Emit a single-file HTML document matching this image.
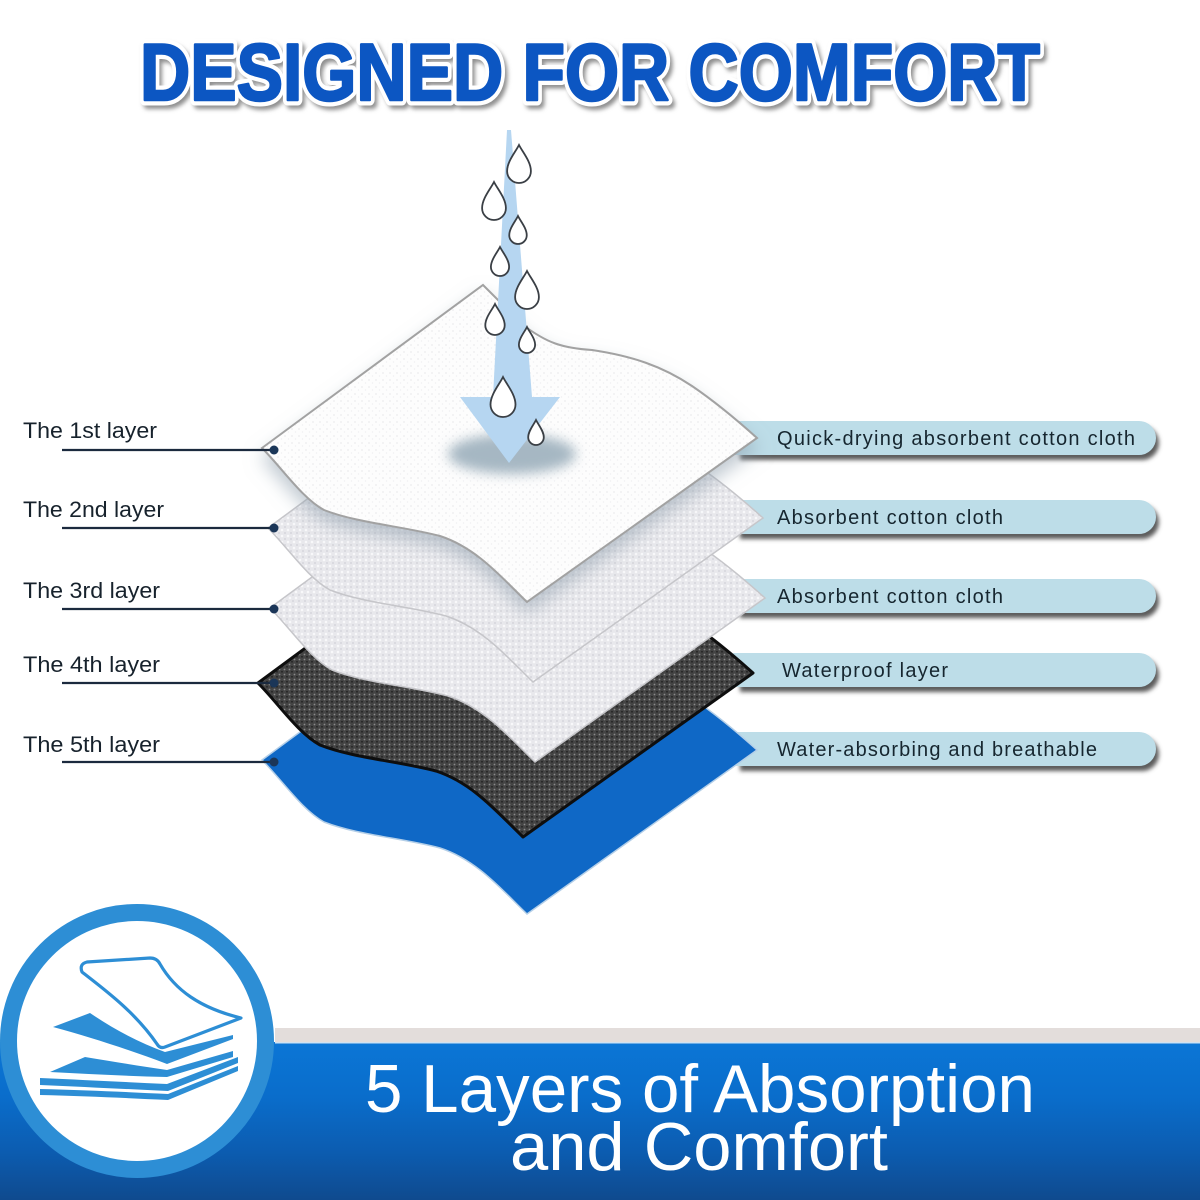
<!DOCTYPE html>
<html>
<head>
<meta charset="utf-8">
<style>
  html,body{margin:0;padding:0;background:#ffffff;}
  body{width:1200px;height:1200px;overflow:hidden;}
  svg{display:block;}
</style>
</head>
<body>
<svg width="1200" height="1200" viewBox="0 0 1200 1200" xmlns="http://www.w3.org/2000/svg">
  <defs>
    <linearGradient id="banner" x1="0" y1="0" x2="0" y2="1">
      <stop offset="0" stop-color="#0b76d6"/>
      <stop offset="0.35" stop-color="#0a6dcb"/>
      <stop offset="0.7" stop-color="#0c5cb0"/>
      <stop offset="1" stop-color="#0f4a8e"/>
    </linearGradient>
    <pattern id="white" width="7" height="7" patternUnits="userSpaceOnUse">
      <rect width="7" height="7" fill="#fdfdfd"/>
      <circle cx="2" cy="2" r="0.9" fill="#ececee"/>
      <circle cx="5.5" cy="5" r="0.7" fill="#f0f0f2"/>
    </pattern>
    <pattern id="knit" width="6" height="6" patternUnits="userSpaceOnUse">
      <rect width="6" height="6" fill="#e8e8ec"/>
      <circle cx="2" cy="2" r="1.3" fill="#f8f8fa"/>
      <circle cx="5" cy="5" r="1" fill="#d6d6dc"/>
    </pattern>
    <pattern id="dark" width="5" height="5" patternUnits="userSpaceOnUse">
      <rect width="5" height="5" fill="#444444"/>
      <circle cx="1.5" cy="1.5" r="0.9" fill="#8a8a8a"/>
      <circle cx="4" cy="3.8" r="0.9" fill="#222222"/>
    </pattern>
    <filter id="blur2" x="-20%" y="-50%" width="140%" height="200%">
      <feGaussianBlur stdDeviation="2"/>
    </filter>
    <filter id="blur6" x="-30%" y="-60%" width="160%" height="220%">
      <feGaussianBlur stdDeviation="6"/>
    </filter>
    <filter id="lshadow" x="-10%" y="-10%" width="120%" height="130%">
      <feDropShadow dx="0" dy="10" stdDeviation="9" flood-color="#8c9cab" flood-opacity="0.55"/>
    </filter>
    <path id="L" d="M0,0 L221,-163 L261,-123 C285,-105 300,-100 330,-98 C370,-92 400,-82 430,-62 C455,-45 475,-28 495,-10 L265,154 C240,130 215,100 178,88 C140,78 95,75 62,62 C40,50 20,20 0,0 Z"/>
  </defs>

  <!-- Title -->
  <g font-family="'Liberation Sans', sans-serif" font-weight="bold" font-size="81">
    <text x="143" y="104" textLength="900" lengthAdjust="spacingAndGlyphs" fill="#8f8f8f" stroke="#8f8f8f" stroke-width="10" stroke-linejoin="round" filter="url(#blur2)">DESIGNED FOR COMFORT</text>
    <text x="140" y="100" textLength="900" lengthAdjust="spacingAndGlyphs" fill="#ffffff" stroke="#ffffff" stroke-width="11" stroke-linejoin="round">DESIGNED FOR COMFORT</text>
    <text x="140" y="100" textLength="900" lengthAdjust="spacingAndGlyphs" fill="#0c56c2" stroke="#0c56c2" stroke-width="2.5" stroke-linejoin="round">DESIGNED FOR COMFORT</text>
  </g>

  <!-- Pills (right) -->
  <g>
    <g fill="#5c5c5c" filter="url(#blur2)">
      <path d="M740,426 H1142 A17,17 0 0 1 1142,460 H740 Z"/>
      <path d="M740,505 H1142 A17,17 0 0 1 1142,539 H740 Z"/>
      <path d="M740,584 H1142 A17,17 0 0 1 1142,618 H740 Z"/>
      <path d="M740,658 H1142 A17,17 0 0 1 1142,692 H740 Z"/>
      <path d="M740,737 H1142 A17,17 0 0 1 1142,771 H740 Z"/>
    </g>
    <g fill="#bddde8">
      <path d="M733,421 H1139 A17,17 0 0 1 1139,455 H733 Z"/>
      <path d="M733,500 H1139 A17,17 0 0 1 1139,534 H733 Z"/>
      <path d="M733,579 H1139 A17,17 0 0 1 1139,613 H733 Z"/>
      <path d="M733,653 H1139 A17,17 0 0 1 1139,687 H733 Z"/>
      <path d="M733,732 H1139 A17,17 0 0 1 1139,766 H733 Z"/>
    </g>
    <g font-family="'Liberation Sans', sans-serif" font-size="20" fill="#16262f">
      <text x="777" y="445" textLength="358" lengthAdjust="spacing">Quick-drying absorbent cotton cloth</text>
      <text x="777" y="524" textLength="226" lengthAdjust="spacing">Absorbent cotton cloth</text>
      <text x="777" y="603" textLength="226" lengthAdjust="spacing">Absorbent cotton cloth</text>
      <text x="782" y="677" textLength="166" lengthAdjust="spacing">Waterproof layer</text>
      <text x="777" y="756" textLength="320" lengthAdjust="spacing">Water-absorbing and breathable</text>
    </g>
  </g>

  <!-- Layers -->
  <use href="#L" transform="translate(262,760)" fill="#0f68c6" stroke="#b4cfe8" stroke-width="1.5"/>
  <use href="#L" transform="translate(258,683)" fill="url(#dark)" stroke="#0e0e0e" stroke-width="3" stroke-linejoin="round"/>
  <use href="#L" transform="translate(270,608)" fill="url(#knit)" stroke="#c6c6ca" stroke-width="1.5"/>
  <use href="#L" transform="translate(268,528)" fill="url(#knit)" stroke="#c6c6ca" stroke-width="1.5"/>
  <use href="#L" transform="translate(262,448)" fill="url(#white)" stroke="#a2a2a2" stroke-width="2" filter="url(#lshadow)"/>

  <!-- wet spot -->
  <ellipse cx="512" cy="454" rx="64" ry="20" fill="#a6b7c3" filter="url(#blur6)"/>

  <!-- Arrow -->
  <polygon points="507,130 511,130 532,397 560,397 509,463 460,397 493,397" fill="#b6d6f1"/>

  <!-- Drops -->
  <g fill="#ffffff" stroke="#3a3f45" stroke-width="1.8">
    <path d="M519,145 C522.6,152.1 530.9,161.6 530.9,171.1 A11.9,11.9 0 0 1 507.1,171.1 C507.1,161.6 515.4,152.1 519,145Z"/>
    <path d="M494,182 C497.6,189.1 505.9,198.6 505.9,208.1 A11.9,11.9 0 0 1 482.1,208.1 C482.1,198.6 490.4,189.1 494,182Z"/>
    <path d="M518,216 C520.6,221.3 526.75,228.25 526.75,235.25 A8.75,8.75 0 0 1 509.25,235.25 C509.25,228.25 515.4,221.3 518,216Z"/>
    <path d="M500,247 C502.7,252.4 509.1,259.7 509.1,266.9 A9.06,9.06 0 0 1 490.9,266.9 C490.9,259.7 497.3,252.4 500,247Z"/>
    <path d="M527,271 C530.6,278.1 538.9,287.6 538.9,297.1 A11.9,11.9 0 0 1 515.1,297.1 C515.1,287.6 523.4,278.1 527,271Z"/>
    <path d="M495,304 C497.9,309.8 504.7,317.5 504.7,325.3 A9.7,9.7 0 0 1 485.3,325.3 C485.3,317.5 492.1,309.8 495,304Z"/>
    <path d="M527,327 C529.4,331.9 535.1,338.4 535.1,344.9 A8.1,8.1 0 0 1 518.9,344.9 C518.9,338.4 524.6,331.9 527,327Z"/>
    <path d="M503,377 C506.75,384.5 515.5,394.5 515.5,404.5 A12.5,12.5 0 0 1 490.5,404.5 C490.5,394.5 499.25,384.5 503,377Z"/>
    <path d="M536,420 C538.3,424.7 543.8,431 543.8,437.2 A7.8,7.8 0 0 1 528.2,437.2 C528.2,431 533.7,424.7 536,420Z"/>
  </g>

  <!-- Left labels -->
  <g font-family="'Liberation Sans', sans-serif" font-size="22" fill="#17222c">
    <text x="23" y="438" textLength="134" lengthAdjust="spacingAndGlyphs">The 1st layer</text>
    <text x="23" y="517" textLength="141" lengthAdjust="spacingAndGlyphs">The 2nd layer</text>
    <text x="23" y="598" textLength="137" lengthAdjust="spacingAndGlyphs">The 3rd layer</text>
    <text x="23" y="672" textLength="137" lengthAdjust="spacingAndGlyphs">The 4th layer</text>
    <text x="23" y="752" textLength="137" lengthAdjust="spacingAndGlyphs">The 5th layer</text>
  </g>
  <g stroke="#1b2a3e" stroke-width="2.2">
    <line x1="62" y1="450" x2="274" y2="450"/>
    <line x1="62" y1="528" x2="274" y2="528"/>
    <line x1="62" y1="609" x2="274" y2="609"/>
    <line x1="62" y1="683" x2="274" y2="683"/>
    <line x1="62" y1="762" x2="274" y2="762"/>
  </g>
  <g fill="#1b3658">
    <circle cx="274" cy="450" r="4.5"/>
    <circle cx="274" cy="528" r="4.5"/>
    <circle cx="274" cy="609" r="4.5"/>
    <circle cx="274" cy="683" r="4.5"/>
    <circle cx="274" cy="762" r="4.5"/>
  </g>

  <!-- Bottom banner -->
  <rect x="275" y="1028" width="925" height="14" fill="#e3dddb"/>
  <rect x="0" y="1042" width="1200" height="158" fill="url(#banner)"/>
  <rect x="275" y="1042" width="925" height="1.5" fill="#cfe2f2"/>
  <g font-family="'Liberation Sans', sans-serif" font-size="68" fill="#ffffff">
    <text x="365" y="1112" textLength="670" lengthAdjust="spacingAndGlyphs">5 Layers of Absorption</text>
    <text x="510" y="1170" textLength="378" lengthAdjust="spacingAndGlyphs">and Comfort</text>
  </g>

  <!-- Icon circle -->
  <circle cx="137" cy="1041" r="128.5" fill="#ffffff" stroke="#2d8ed5" stroke-width="17"/>
  <g fill="#2d8ed5">
    <path d="M53,1027 L90,1013 C115,1030 140,1043 165,1052 L233,1035 L233,1039 L167,1064 C130,1050 90,1037 53,1027 Z"/>
    <path d="M50,1072 L85,1057 C115,1062 140,1066 167,1070 L233,1051 L233,1057 L167,1077 C125,1076 88,1074 50,1072 Z"/>
    <path d="M40,1078 C85,1080 125,1082 167,1084 L238,1057 L238,1063 L168,1091 C125,1089 85,1087 40,1085 Z"/>
    <path d="M40,1089 C85,1090 125,1092 168,1094 L238,1066 L238,1071 L168,1100 C125,1098 85,1096 40,1095 Z"/>
  </g>
  <path d="M82,972 Q79,964 87,962 L150,958 Q157,958 160,964 C175,990 200,1008 241,1018 L165,1047 Q160,1049 157,1044 C135,1012 105,990 82,972 Z" fill="#ffffff" stroke="#2d8ed5" stroke-width="3.2" stroke-linejoin="round"/>
</svg>
</body>
</html>
